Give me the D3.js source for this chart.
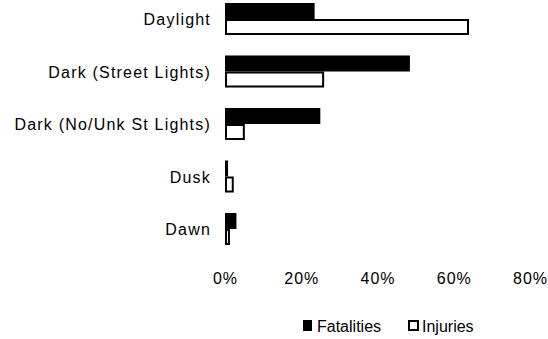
<!DOCTYPE html>
<html><head><meta charset="utf-8">
<script src="https://cdn.jsdelivr.net/npm/d3@7"></script>
<style>body{margin:0;background:#fff}svg{display:block;font-family:"Liberation Sans",Arial,sans-serif}</style>
</head><body>
<svg id="c" width="548" height="339"></svg>
<script>
const categories = ["Daylight","Dark (Street Lights)","Dark (No/Unk St Lights)","Dusk","Dawn"];
const fatalities = [23.5, 48.5, 25, 0.8, 3];
const injuries = [64, 26, 5.2, 2.3, 1.3];
const ticks = [0, 20, 40, 60, 80];
const seriesNames = ["Fatalities","Injuries"];

const svg = d3.select("#c");
const x = d3.scaleLinear().domain([0, 80]).range([225, 530]);
const y = d3.scaleBand().domain(categories).range([-7.25, 255.25]).paddingInner(0.39).paddingOuter(0.195);
const inner = d3.scaleBand().domain(seriesNames).range([0, y.bandwidth()]);

const data = categories.map((c,i)=>({c, f:fatalities[i], inj:injuries[i]}));

svg.append("g").selectAll("rect").data(data).join("rect")
  .attr("x", x(0)).attr("y", d=>y(d.c)+inner("Fatalities"))
  .attr("width", d=>x(d.f)-x(0)).attr("height", inner.bandwidth())
  .attr("fill","#000");

svg.append("g").selectAll("rect").data(data).join("rect")
  .attr("x", x(0)+1).attr("y", d=>y(d.c)+inner("Injuries")+1)
  .attr("width", d=>Math.max(0, x(d.inj)-x(0)-2)).attr("height", inner.bandwidth()-2)
  .attr("fill","#fff").attr("stroke","#000").attr("stroke-width",2);

const yAxis = d3.axisLeft(y).tickSize(0).tickPadding(14);
const gy = svg.append("g").attr("transform",`translate(${x(0)},0)`).call(yAxis);
gy.select(".domain").remove();
gy.selectAll("text").attr("font-size",16).attr("letter-spacing","1.2px").attr("fill","#000")
  .attr("font-family","Liberation Sans, Arial, sans-serif").attr("dy","0.38em");

const xAxis = d3.axisBottom(x).tickValues(ticks).tickSize(0).tickFormat(d=>d+"%");
const gx = svg.append("g").attr("transform",`translate(0,270)`).call(xAxis);
gx.select(".domain").remove();
gx.selectAll("text").attr("font-size",16).attr("letter-spacing","1px").attr("fill","#000")
  .attr("font-family","Liberation Sans, Arial, sans-serif");

const lg = svg.append("g").attr("font-size",16).attr("fill","#000");
lg.append("rect").attr("x",303).attr("y",320).attr("width",9).attr("height",11).attr("fill","#000");
lg.append("text").attr("x",317).attr("y",332).text(seriesNames[0]);
lg.append("rect").attr("x",409).attr("y",321).attr("width",9).attr("height",9).attr("fill","#fff").attr("stroke","#000").attr("stroke-width",2);
lg.append("text").attr("x",422).attr("y",332).text(seriesNames[1]);
</script>
</body></html>
